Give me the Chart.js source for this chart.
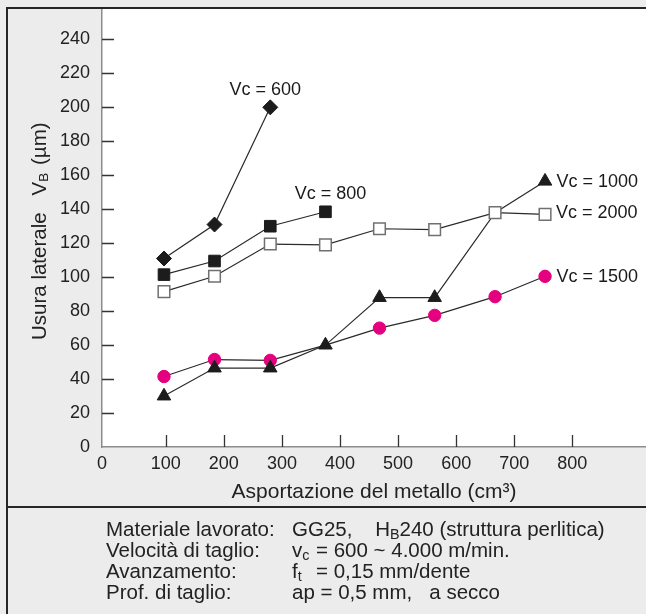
<!DOCTYPE html>
<html>
<head>
<meta charset="utf-8">
<title>Usura laterale</title>
<script src="https://cdn.jsdelivr.net/npm/chart.js@4.4.1/dist/chart.umd.min.js"></script>
<style>
	body { margin: 0; background: #ececec; }
	#wrap { position: relative; width: 646px; height: 614px; background: #ececec; overflow: hidden;
		font-family: "Liberation Sans", Arial, sans-serif; color: #222; }
	#wearChart { position: absolute; left: 0; top: 0; }
	.rule { position: absolute; background: #262626; }
	#info { position: absolute; left: 106px; top: 518px; font-size: 20.5px; line-height: 21px; }
	#info .row { white-space: pre; height: 21px; }
	#info .lbl { display: inline-block; width: 186px; }
	#info .sym { display: inline-block; width: 24px; }
	#info sub { font-size: 70%; line-height: 0; vertical-align: -0.2em; }
</style>
</head>
<body>
<div id="wrap">
	<canvas id="wearChart" width="646" height="614"></canvas>
	<div class="rule" style="left:6px; top:7px; width:640px; height:2px;"></div>
	<div class="rule" style="left:6px; top:7px; width:2px; height:607px;"></div>
	<div class="rule" style="left:6px; top:506px; width:640px; height:1.5px;"></div>
	<div id="info">
		<div class="row"><span class="lbl">Materiale lavorato:</span>GG25,    H<sub>B</sub>240 (struttura perlitica)</div>
		<div class="row"><span class="lbl">Velocità di taglio:</span><span class="sym">v<sub>c</sub></span>= 600 ~ 4.000 m/min.</div>
		<div class="row"><span class="lbl">Avanzamento:</span><span class="sym">f<sub>t</sub></span>= 0,15 mm/dente</div>
		<div class="row"><span class="lbl">Prof. di taglio:</span>ap = 0,5 mm,   a secco</div>
	</div>
</div>

<script>
	// asportazione del metallo (cm3) - same columns for every series
	const removal = [97, 184, 280, 375, 468, 563, 667, 753];

	// usura laterale VB (µm)
	const vc600 = [111, 131, 200];
	const vc800 = [101.5, 109.5, 130, 138.5];
	const vc1000 = [30, 46.5, 46.5, 60, 88, 88, 138, 156.5];
	const vc1500 = [41.5, 51.5, 51, 60, 70, 77.5, 88.5, 100.5];
	const vc2000 = [91.5, 100.5, 119.5, 119, 128.5, 128, 138, 137];

	const seriesNames = ["Vc = 600", "Vc = 800", "Vc = 1000", "Vc = 1500", "Vc = 2000"];

	const xTickValues = [0, 100, 200, 300, 400, 500, 600, 700, 800];
	const yTickValues = [0, 20, 40, 60, 80, 100, 120, 140, 160, 180, 200, 220, 240];

	// axis starts a little before 0 on the original drawing
	const X_MIN = -9.7;
	const X_MAX = 926.8;
	const Y_MAX = 257.9;

	// where the "Vc = ..." text sits relative to the last point of each series
	const labelPlacement = [
		{ dx: -5, dy: -17, align: "center" },
		{ dx: 5, dy: -17.5, align: "center" },
		{ dx: 11.5, dy: 1, align: "left" },
		{ dx: 11.5, dy: 0.5, align: "left" },
		{ dx: 11, dy: -1, align: "left" }
	];

	const INK = "#222";

	function toPoints(values) {
		return values.map((v, i) => ({ x: removal[i], y: v }));
	}

	function radii(values, r, hidden) {
		return values.map((v, i) => hidden.includes(i) ? 0 : r);
	}

	// end labels are not at the edges here, so drop the extra padding chart.js reserves
	function noEdgePadding(scale) {
		scale.paddingTop = 0;
		scale.paddingBottom = 0;
		scale.paddingLeft = 0;
		scale.paddingRight = 0;
	}

	/* =========================================
	PLUGINS
	============================================*/
	const plotBackground = {
		id: "plotBackground",
		beforeDraw(chart) {
			const { ctx, chartArea } = chart;
			ctx.save();
			ctx.fillStyle = "#fff";
			ctx.fillRect(chartArea.left, chartArea.top, chartArea.right - chartArea.left, chartArea.bottom - chartArea.top);
			ctx.restore();
		}
	};

	// tick marks point inward on this drawing
	const innerTicks = {
		id: "innerTicks",
		beforeDatasetsDraw(chart) {
			const { ctx, chartArea, scales } = chart;
			ctx.save();
			ctx.strokeStyle = "#333";
			ctx.lineWidth = 1.3;
			ctx.beginPath();
			yTickValues.forEach(v => {
				if (v === 0) return;
				const y = Math.round(scales.y.getPixelForValue(v)) + 0.5;
				ctx.moveTo(chartArea.left, y);
				ctx.lineTo(chartArea.left + 12, y);
			});
			xTickValues.forEach(v => {
				if (v === 0) return;
				const x = Math.round(scales.x.getPixelForValue(v)) + 0.5;
				ctx.moveTo(x, chartArea.bottom);
				ctx.lineTo(x, chartArea.bottom - 12);
			});
			ctx.stroke();
			ctx.restore();
		}
	};

	const seriesLabels = {
		id: "seriesLabels",
		afterDatasetsDraw(chart) {
			const { ctx } = chart;
			ctx.save();
			ctx.font = "18px 'Liberation Sans', Arial, sans-serif";
			ctx.fillStyle = "#1a1a1a";
			ctx.textBaseline = "middle";
			chart.data.datasets.forEach((ds, i) => {
				const meta = chart.getDatasetMeta(i);
				const last = meta.data[meta.data.length - 1];
				const place = labelPlacement[i];
				ctx.textAlign = place.align;
				ctx.fillText(ds.label, last.x + place.dx, last.y + place.dy);
			});
			ctx.restore();
		}
	};

	// y title has a subscript, so it is drawn by hand
	const yTitle = {
		id: "yTitle",
		afterDraw(chart) {
			const { ctx } = chart;
			const big = "20.5px 'Liberation Sans', Arial, sans-serif";
			const small = "13.5px 'Liberation Sans', Arial, sans-serif";
			ctx.save();
			ctx.translate(45.5, 340);
			ctx.rotate(-Math.PI / 2);
			ctx.fillStyle = INK;
			ctx.textAlign = "left";
			ctx.textBaseline = "alphabetic";
			let x = 0;
			ctx.font = big;
			ctx.fillText("Usura laterale", x, 0);
			x += ctx.measureText("Usura laterale").width + 17;
			ctx.fillText("V", x, 0);
			x += ctx.measureText("V").width;
			ctx.font = small;
			ctx.fillText("B", x, 2);
			x += ctx.measureText("B").width + 2;
			ctx.font = big;
			ctx.fillText(" (µm)", x, 0);
			ctx.restore();
		}
	};

	document.addEventListener("DOMContentLoaded", () => {

		const canvas = document.getElementById("wearChart");

		const lineColor = "#2a2a2a";

		window.wearChart = new Chart(canvas, {
			type: "line",
			data: {
				datasets: [
					{
						label: seriesNames[0], data: toPoints(vc600), order: 4,
						borderColor: lineColor, borderWidth: 1.2,
						pointStyle: "rectRot", pointRadius: 7.5,
						pointBackgroundColor: "#1c1c1c", pointBorderColor: "#1c1c1c", pointBorderWidth: 1
					},
					{
						label: seriesNames[1], data: toPoints(vc800), order: 3,
						borderColor: lineColor, borderWidth: 1.2,
						pointStyle: "rect", pointRadius: 8.2,
						pointBackgroundColor: "#1c1c1c", pointBorderColor: "#1c1c1c", pointBorderWidth: 1
					},
					{
						label: seriesNames[2], data: toPoints(vc1000), order: 1,
						borderColor: lineColor, borderWidth: 1.2,
						pointStyle: "triangle", pointRadius: radii(vc1000, 7.8, [6]),
						pointBackgroundColor: "#1c1c1c", pointBorderColor: "#1c1c1c", pointBorderWidth: 1
					},
					{
						label: seriesNames[3], data: toPoints(vc1500), order: 2,
						borderColor: lineColor, borderWidth: 1.2,
						pointStyle: "circle", pointRadius: radii(vc1500, 6.2, [3]),
						pointBackgroundColor: "#e4007f", pointBorderColor: "#e4007f", pointBorderWidth: 1
					},
					{
						label: seriesNames[4], data: toPoints(vc2000), order: 0,
						borderColor: lineColor, borderWidth: 1.2,
						pointStyle: "rect", pointRadius: 8.2,
						pointBackgroundColor: "#fff", pointBorderColor: "#707070", pointBorderWidth: 1.5
					}
				]
			},
			options: {
				responsive: false,
				animation: false,
				devicePixelRatio: 1,
				layout: { autoPadding: false, padding: { top: 9, left: 0, right: 0, bottom: 107 } },
				plugins: {
					legend: { display: false },
					tooltip: { enabled: false }
				},
				elements: { line: { tension: 0 } },
				scales: {
					x: {
						type: "linear",
						min: X_MIN,
						max: X_MAX,
						afterBuildTicks: scale => {
							scale.ticks = xTickValues.map(v => ({ value: v === 0 ? X_MIN : v }));
						},
						afterFit: scale => { scale.height = 60; noEdgePadding(scale); },
						grid: { drawOnChartArea: false, drawTicks: false },
						border: { color: "#8c8c8c", width: 1.5 },
						ticks: {
							autoSkip: false,
							maxRotation: 0,
							padding: 6,
							color: INK,
							font: { family: "'Liberation Sans', Arial, sans-serif", size: 18 },
							callback: value => value === X_MIN ? "0" : String(value)
						},
						title: {
							display: true,
							text: "Asportazione del metallo (cm³)",
							color: INK,
							padding: { top: 0, bottom: 2 },
							font: { family: "'Liberation Sans', Arial, sans-serif", size: 21 }
						}
					},
					y: {
						min: 0,
						max: Y_MAX,
						afterBuildTicks: scale => {
							scale.ticks = yTickValues.map(v => ({ value: v }));
						},
						afterFit: scale => { scale.width = 102; noEdgePadding(scale); },
						grid: { drawOnChartArea: false, drawTicks: false },
						border: { color: "#8c8c8c", width: 1.5 },
						ticks: {
							padding: 12,
							color: INK,
							font: { family: "'Liberation Sans', Arial, sans-serif", size: 18 },
							callback: value => String(value)
						}
					}
				}
			},
			plugins: [plotBackground, innerTicks, seriesLabels, yTitle]
		});
	});
</script>
</body>
</html>
